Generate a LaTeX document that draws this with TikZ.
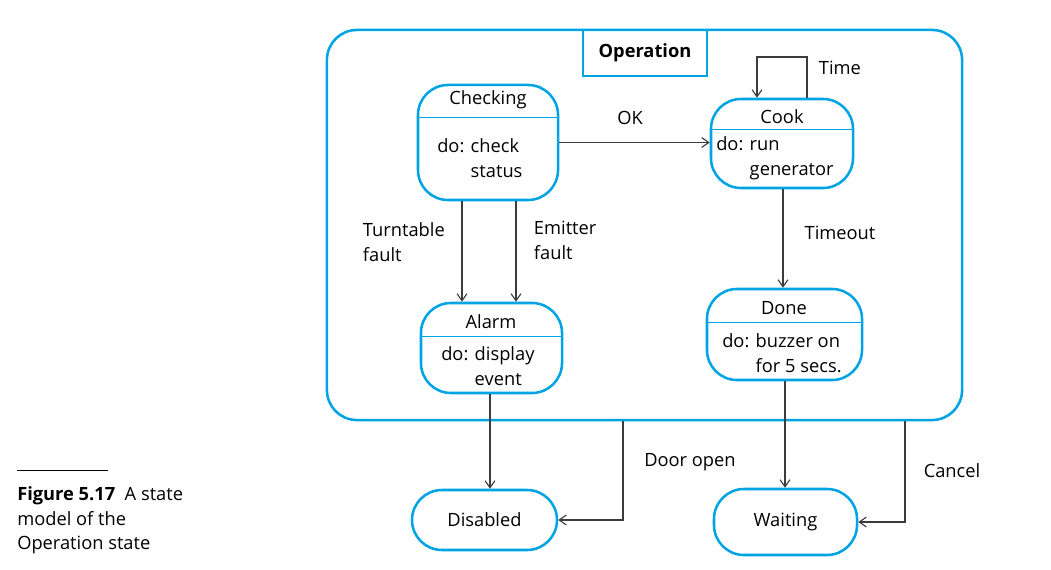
\documentclass[tikz,border=0pt]{standalone}
\usepackage{fontspec}
\setmainfont{Open Sans}
\usetikzlibrary{arrows.meta,positioning,calc}
\definecolor{umlblue}{RGB}{0,164,228}
\definecolor{wire}{RGB}{60,60,60}
\tikzstyle{state} = [draw=umlblue,line width=1.8pt,rounded corners=0.75cm,inner sep=0pt]
\tikzstyle{divider} = [draw=umlblue,line width=1pt]
\tikzstyle{body} = [anchor=west,align=left,inner sep=0pt]
\tikzstyle{trans} = [->,draw=wire,line width=0.8pt]
\tikzset{>={Straight Barb[length=5pt,width=7pt]}}
\newcommand{\ind}{\phantom{do: }}

\begin{document}
\begin{tikzpicture}[x=0.025cm,y=-0.025cm,font=\fontsize{13}{17.7}\selectfont]
    \useasboundingbox (0,0) rectangle (1051,570);

    % superstate
    \node [state,minimum width=15.875cm,minimum height=9.75cm] (op) at (644.5,225) {};
    \node [draw=umlblue,line width=1.8pt,minimum width=3.1cm,minimum height=1.15cm,
           font=\fontsize{13}{17}\selectfont\bfseries] (opT) at (645,53) {Operation};

    % states
    \node [state,minimum width=3.5cm,minimum height=2.875cm] (checking) at (488,142.5) {};
    \node (checkingT) at (488,100) {Checking};
    \draw [divider] ($(checking.north west)+(0,33.5)$) -- ($(checking.north east)+(0,33.5)$);
    \node [body] (checkingB) at (437,158) {do: check\\\ind status};

    \node [state,minimum width=3.55cm,minimum height=2.225cm] (cook) at (782,143.5) {};
    \node (cookT) at (782,117) {Cook};
    \draw [divider] ($(cook.north west)+(0,31.5)$) -- ($(cook.north east)+(0,31.5)$);
    \node [body] (cookB) at (716,158) {do: run\\\ind generator};

    \node [state,minimum width=3.525cm,minimum height=2.25cm] (alarm) at (491.5,348) {};
    \node (alarmT) at (491,322) {Alarm};
    \draw [divider] ($(alarm.north west)+(0,35)$) -- ($(alarm.north east)+(0,35)$);
    \node [body] (alarmB) at (441,366) {do: display\\\ind event};

    \node [state,minimum width=3.875cm,minimum height=2.275cm] (done) at (784.5,334.5) {};
    \node (doneT) at (784,308) {Done};
    \draw [divider] ($(done.north west)+(0,35)$) -- ($(done.north east)+(0,35)$);
    \node [body] (doneB) at (722,353) {do: buzzer on\\\ind for 5 secs.};

    \node [state,minimum width=3.625cm,minimum height=1.5cm] (disabled) at (484.5,520) {Disabled};
    \node [state,minimum width=3.575cm,minimum height=1.65cm] (waiting) at (785.5,522) {Waiting};

    % transitions
    \coordinate (tt) at (462,0);
    \coordinate (em) at (516,0);
    \coordinate (al) at (490,0);
    \coordinate (dw) at (785,0);
    \coordinate (tm) at (783,0);
    \coordinate (dr) at (623,0);
    \coordinate (cn) at (905,0);
    \coordinate (loopL) at (757,57);
    \coordinate (loopR) at (807,57);

    \draw [trans] (checking.east) -- (cook.west |- checking.east);
    \draw [trans] (cook.north -| loopR) -- (loopR) -- (loopL) -- (cook.north -| loopL);
    \draw [trans] (checking.south -| tt) -- (alarm.north -| tt);
    \draw [trans] (checking.south -| em) -- (alarm.north -| em);
    \draw [trans] (cook.south -| tm) -- (done.north -| tm);
    \draw [trans] (alarm.south -| al) -- (disabled.north -| al);
    \draw [trans] (done.south -| dw) -- (waiting.north -| dw);
    \draw [trans] (op.south -| dr) |- (disabled.east);
    \draw [trans] (op.south -| cn) |- (waiting.east);

    \node (okL) at (630,118) {OK};
    \node [anchor=west] (timeL) at (814,68) {Time};
    \node [anchor=west,align=left] (ttL) at (358,242) {Turntable\\fault};
    \node [anchor=west,align=left] (emL) at (529,240) {Emitter\\fault};
    \node (toL) at (840,233) {Timeout};
    \node (doorL) at (690,462) {Door open};
    \node (cancelL) at (952,471) {Cancel};

    % caption
    \draw [line width=0.6pt] (17,470) coordinate (rl) -- (108,470) coordinate (rr);
    \node [anchor=north west,align=left,inner sep=0pt] (cap) at (17,486)
      {\textbf{Figure 5.17}\ \ A state\\model of the\\Operation state};
\end{tikzpicture}
\end{document}
